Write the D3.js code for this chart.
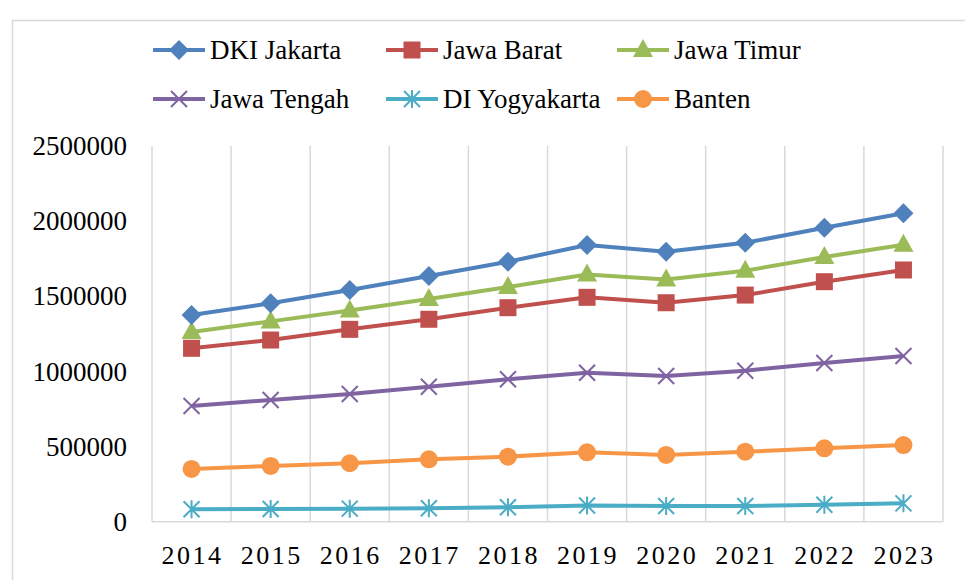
<!DOCTYPE html>
<html>
<head>
<meta charset="utf-8">
<script src="https://cdn.jsdelivr.net/npm/d3@7"></script>
<style>
  body { margin: 0; background: #fff; }
</style>
</head>
<body>
<svg id="chart" width="965" height="580"></svg>
<script>
// ---- DATA ----
const years = ["2014", "2015", "2016", "2017", "2018", "2019", "2020", "2021", "2022", "2023"];
const dkiJakarta  = [1375000, 1453000, 1542000, 1635000, 1730000, 1841000, 1797000, 1856000, 1956000, 2052000];
const jawaBarat   = [1154000, 1209000, 1280000, 1347000, 1424000, 1493000, 1457000, 1508000, 1597000, 1675000];
const jawaTimur   = [1262000, 1333000, 1406000, 1482000, 1562000, 1645000, 1612000, 1670000, 1761000, 1843000];
const jawaTengah  = [770000, 810000, 850000, 898000, 948000, 991000, 969000, 1005000, 1056000, 1103000];
const diYogyakarta = [83000, 85000, 87000, 89000, 96000, 108000, 104000, 104000, 113000, 122000];
const banten      = [351000, 371000, 389000, 415000, 433000, 462000, 444000, 466000, 488000, 510000];
const yTicks = [0, 500000, 1000000, 1500000, 2000000, 2500000];

const FONT = "'Liberation Serif', 'Times New Roman', 'DejaVu Serif', serif";

const series = [
  { name: "DKI Jakarta",   values: dkiJakarta,   color: "#4F81BD", marker: "diamond" },
  { name: "Jawa Barat",    values: jawaBarat,    color: "#C0504D", marker: "square" },
  { name: "Jawa Timur",    values: jawaTimur,    color: "#9BBB59", marker: "triangle" },
  { name: "Jawa Tengah",   values: jawaTengah,   color: "#8064A2", marker: "x" },
  { name: "DI Yogyakarta", values: diYogyakarta, color: "#4BACC6", marker: "star" },
  { name: "Banten",        values: banten,       color: "#F79646", marker: "circle" }
];
// draw order: bottom lines first
const drawOrder = [4, 5, 3, 1, 2, 0];

const svg = d3.select("#chart");

// chart frame
svg.append("path")
  .attr("d", "M12.5,580 V20.5 H965")
  .attr("fill", "none")
  .attr("stroke", "#d9d9d9")
  .attr("stroke-width", 1.5);

// ---- SCALES ----
const x = d3.scaleBand().domain(years).range([152, 943]).paddingInner(0).paddingOuter(0);
const y = d3.scaleLinear().domain([0, 2500000]).range([521.7, 146]);
const cx = d => x(d) + x.bandwidth() / 2;

// vertical gridlines at category boundaries
const edges = years.map(d => x(d)).concat([x.range()[1]]);
svg.append("g").selectAll("line").data(edges).join("line")
  .attr("x1", d => d).attr("x2", d => d)
  .attr("y1", y(2500000)).attr("y2", y(0))
  .attr("stroke", "#d9d9d9").attr("stroke-width", 1.5);

// x axis line
svg.append("line")
  .attr("x1", x.range()[0]).attr("x2", x.range()[1])
  .attr("y1", y(0)).attr("y2", y(0))
  .attr("stroke", "#d9d9d9").attr("stroke-width", 1.5);

// y tick labels
svg.append("g").selectAll("text").data(yTicks).join("text")
  .attr("x", 127)
  .attr("y", d => y(d))
  .attr("dy", "0.34em")
  .attr("text-anchor", "end")
  .attr("font-family", FONT)
  .attr("font-size", 27)
  .text(d => d);

// x labels
svg.append("g").selectAll("text").data(years).join("text")
  .attr("x", d => cx(d) + 1)
  .attr("y", 555)
  .attr("dy", "0.34em")
  .attr("text-anchor", "middle")
  .attr("font-family", FONT)
  .attr("font-size", 26)
  .attr("letter-spacing", "2.5px")
  .text(d => d);

// ---- MARKERS ----
function drawMarker(g, type, color, px, py) {
  if (type === "diamond") {
    g.append("path").attr("d", `M${px},${py - 10} L${px + 10},${py} L${px},${py + 10} L${px - 10},${py} Z`).attr("fill", color);
  } else if (type === "square") {
    g.append("rect").attr("x", px - 8.5).attr("y", py - 8.5).attr("width", 17).attr("height", 17).attr("fill", color);
  } else if (type === "triangle") {
    g.append("path").attr("d", `M${px},${py - 11} L${px + 10},${py + 7} L${px - 10},${py + 7} Z`).attr("fill", color);
  } else if (type === "x") {
    g.append("path").attr("d", `M${px - 8},${py - 8} L${px + 8},${py + 8} M${px + 8},${py - 8} L${px - 8},${py + 8}`)
      .attr("stroke", color).attr("stroke-width", 2).attr("fill", "none");
  } else if (type === "star") {
    g.append("path").attr("d", `M${px - 8},${py - 8} L${px + 8},${py + 8} M${px + 8},${py - 8} L${px - 8},${py + 8} M${px},${py - 9} L${px},${py + 9}`)
      .attr("stroke", color).attr("stroke-width", 2).attr("fill", "none");
  } else if (type === "circle") {
    g.append("circle").attr("cx", px).attr("cy", py).attr("r", 9).attr("fill", color);
  }
}

const line = d3.line().x(d => cx(d.year)).y(d => y(d.value));

drawOrder.forEach(i => {
  const s = series[i];
  const pts = years.map((yr, j) => ({ year: yr, value: s.values[j] }));
  const g = svg.append("g");
  g.append("path")
    .datum(pts)
    .attr("d", line)
    .attr("fill", "none")
    .attr("stroke", s.color)
    .attr("stroke-width", 4)
    .attr("stroke-linejoin", "round");
  pts.forEach(p => drawMarker(g, s.marker, s.color, cx(p.year), y(p.value)));
});

// ---- LEGEND ----
const legendPos = [
  { x: 153, y: 50 }, { x: 386, y: 50 }, { x: 617, y: 50 },
  { x: 153, y: 99 }, { x: 386, y: 99 }, { x: 617, y: 99 }
];
series.forEach((s, i) => {
  const p = legendPos[i];
  const g = svg.append("g");
  g.append("line")
    .attr("x1", p.x).attr("x2", p.x + 52)
    .attr("y1", p.y).attr("y2", p.y)
    .attr("stroke", s.color).attr("stroke-width", 4);
  drawMarker(g, s.marker, s.color, p.x + 26, p.y);
  g.append("text")
    .attr("x", p.x + 57)
    .attr("y", p.y)
    .attr("dy", "0.34em")
    .attr("font-family", FONT)
    .attr("font-size", 27)
    .text(s.name);
});
</script>
</body>
</html>
